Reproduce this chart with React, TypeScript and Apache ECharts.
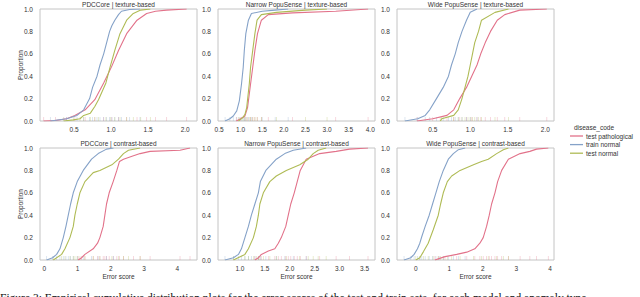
import React, { useEffect, useRef } from "react";
import * as echarts from "echarts";

// ---------- data ----------
const seriesNames = ["test pathological", "train normal", "test normal"];
const seriesColors = ["#e2728a", "#85a2c8", "#afbb55"];

const panelTitles = [
  "PDCCore | texture-based",
  "Narrow PopuSense | texture-based",
  "Wide PopuSense | texture-based",
  "PDCCore | contrast-based",
  "Narrow PopuSense | contrast-based",
  "Wide PopuSense | contrast-based",
];

const yTicks = [0, 0.2, 0.4, 0.6, 0.8, 1.0];

const xTicksP1 = [0.5, 1.0, 1.5, 2.0];
const xTicksP2 = [0.5, 1.0, 1.5, 2.0, 2.5, 3.0, 3.5, 4.0];
const xTicksP3 = [0.5, 1.0, 1.5, 2.0];
const xTicksP4 = [0, 1, 2, 3, 4];
const xTicksP5 = [1.0, 1.5, 2.0, 2.5, 3.0, 3.5];
const xTicksP6 = [0, 1, 2, 3, 4];

// ECDF curves: [error score, proportion]
const p1Path = [[0.09,0],[0.25,0.005],[0.4,0.02],[0.51,0.05],[0.65,0.1],[0.78,0.19],[0.9,0.34],[1.01,0.49],[1.1,0.63],[1.21,0.78],[1.35,0.9],[1.48,0.96],[1.6,0.98],[1.75,0.99],[2.02,1.0]];
const p1Train = [[0.18,0],[0.4,0.02],[0.54,0.05],[0.63,0.1],[0.71,0.2],[0.75,0.3],[0.81,0.4],[0.85,0.5],[0.9,0.6],[0.94,0.7],[0.98,0.8],[1.01,0.85],[1.05,0.9],[1.1,0.95],[1.14,0.98],[1.25,0.995],[1.39,1.0]];
const p1Test = [[0.36,0],[0.49,0.01],[0.58,0.02],[0.63,0.05],[0.72,0.07],[0.78,0.13],[0.83,0.19],[0.93,0.34],[0.99,0.49],[1.05,0.63],[1.12,0.78],[1.21,0.9],[1.3,0.96],[1.4,0.99],[1.53,1.0]];

const p2Path = [[0.9,0],[1.0,0.02],[1.1,0.045],[1.16,0.12],[1.23,0.33],[1.28,0.48],[1.33,0.63],[1.39,0.78],[1.48,0.9],[1.64,0.95],[2.2,0.965],[3.2,0.98],[3.95,1.0]];
const p2Train = [[0.64,0],[0.75,0.02],[0.83,0.045],[0.91,0.09],[0.97,0.18],[1.02,0.33],[1.06,0.48],[1.085,0.63],[1.12,0.78],[1.18,0.9],[1.25,0.96],[1.5,0.98],[1.8,0.99],[2.1,1.0]];
const p2Test = [[0.95,0],[1.05,0.03],[1.1,0.06],[1.14,0.12],[1.2,0.33],[1.23,0.48],[1.28,0.63],[1.33,0.78],[1.38,0.9],[1.48,0.95],[1.83,0.97],[2.5,0.99],[3.0,1.0]];

const p3Path = [[0.29,0],[0.5,0.02],[0.69,0.05],[0.78,0.1],[0.86,0.2],[0.95,0.3],[1.02,0.4],[1.09,0.5],[1.14,0.6],[1.2,0.7],[1.27,0.8],[1.36,0.9],[1.46,0.95],[1.66,0.99],[2.02,1.0]];
const p3Train = [[0.13,0],[0.3,0.02],[0.4,0.05],[0.46,0.1],[0.55,0.2],[0.64,0.3],[0.71,0.4],[0.75,0.5],[0.8,0.6],[0.84,0.7],[0.89,0.8],[0.95,0.9],[1.0,0.97],[1.09,1.0]];
const p3Test = [[0.6,0],[0.62,0.02],[0.78,0.05],[0.84,0.1],[0.89,0.2],[0.93,0.3],[0.97,0.4],[1.0,0.5],[1.03,0.6],[1.06,0.7],[1.11,0.8],[1.15,0.9],[1.33,0.97],[1.51,1.0]];

const p4Path = [[1.02,0],[1.12,0.02],[1.22,0.05],[1.47,0.1],[1.6,0.15],[1.67,0.2],[1.77,0.3],[1.82,0.4],[1.87,0.5],[1.95,0.6],[2.07,0.7],[2.18,0.8],[2.26,0.88],[2.38,0.9],[2.68,0.93],[2.88,0.95],[3.18,0.97],[4.08,0.98],[4.38,1.0]];
const p4Train = [[0.07,0],[0.25,0.02],[0.37,0.05],[0.47,0.1],[0.57,0.2],[0.65,0.3],[0.72,0.4],[0.79,0.5],[0.87,0.6],[0.99,0.7],[1.17,0.8],[1.42,0.9],[1.62,0.95],[1.87,0.99],[2.08,1.0]];
const p4Test = [[0.27,0],[0.52,0.05],[0.62,0.1],[0.77,0.2],[0.87,0.3],[0.92,0.4],[0.99,0.5],[1.07,0.6],[1.22,0.7],[1.47,0.78],[1.67,0.8],[2.03,0.85],[2.23,0.9],[2.38,0.95],[2.53,0.98],[2.88,1.0]];

const p5Path = [[1.3,0],[1.37,0.02],[1.43,0.05],[1.57,0.08],[1.7,0.1],[1.77,0.15],[1.83,0.2],[1.92,0.3],[1.97,0.4],[2.02,0.5],[2.09,0.6],[2.15,0.7],[2.21,0.8],[2.33,0.9],[2.6,0.95],[2.93,0.97],[3.2,0.99],[3.57,1.0]];
const p5Train = [[0.7,0],[0.87,0.02],[0.97,0.05],[1.03,0.1],[1.1,0.2],[1.17,0.3],[1.23,0.4],[1.3,0.5],[1.37,0.6],[1.41,0.7],[1.52,0.8],[1.73,0.9],[1.9,0.95],[2.07,0.98],[2.33,1.0]];
const p5Test = [[0.87,0],[1.1,0.05],[1.17,0.1],[1.27,0.2],[1.33,0.3],[1.37,0.4],[1.4,0.5],[1.47,0.6],[1.6,0.7],[1.73,0.75],[1.93,0.8],[2.2,0.85],[2.37,0.9],[2.47,0.95],[2.57,0.98],[2.73,1.0]];

const p6Path = [[0.57,0],[0.67,0.01],[0.87,0.03],[1.22,0.05],[1.52,0.07],[1.76,0.1],[1.91,0.15],[2.01,0.2],[2.11,0.3],[2.19,0.4],[2.26,0.5],[2.36,0.6],[2.44,0.7],[2.56,0.8],[2.76,0.9],[3.11,0.95],[3.4,0.97],[3.6,0.99],[3.95,1.0]];
const p6Train = [[-0.35,0],[-0.15,0.02],[-0.05,0.05],[0.05,0.1],[0.12,0.15],[0.18,0.21],[0.28,0.3],[0.4,0.4],[0.5,0.5],[0.6,0.6],[0.7,0.7],[0.82,0.8],[0.97,0.9],[1.12,0.95],[1.27,0.985],[1.47,1.0]];
const p6Test = [[0.0,0],[0.12,0.02],[0.23,0.075],[0.37,0.15],[0.52,0.27],[0.67,0.4],[0.74,0.5],[0.82,0.6],[0.94,0.7],[1.07,0.75],[1.32,0.8],[1.72,0.85],[1.96,0.88],[2.16,0.9],[2.41,0.95],[2.61,0.985],[2.76,1.0]];

const captionText =
  "Figure 3: Empirical cumulative distribution plots for the error scores of the test and train sets, for each model and anomaly type.";

// ---------- layout ----------
const FONT = "Liberation Sans, Arial, Helvetica, sans-serif";
const TXT = "#333333";

const panels = [
  { curves: [p1Path, p1Train, p1Test], ticks: xTicksP1, range: [0.04, 2.16], dec: 1 },
  { curves: [p2Path, p2Train, p2Test], ticks: xTicksP2, range: [0.476, 4.11], dec: 1 },
  { curves: [p3Path, p3Train, p3Test], ticks: xTicksP3, range: [0.024, 2.116], dec: 1 },
  { curves: [p4Path, p4Train, p4Test], ticks: xTicksP4, range: [-0.13, 4.59], dec: 0 },
  { curves: [p5Path, p5Train, p5Test], ticks: xTicksP5, range: [0.56, 3.71], dec: 1 },
  { curves: [p6Path, p6Train, p6Test], ticks: xTicksP6, range: [-0.56, 4.12], dec: 0 },
];

const colLeft = [40, 218, 397];
const rowTop = [9, 148];
const W = 157;
const H = 112;

function buildOption() {
  const grid: any[] = [];
  const xAxis: any[] = [];
  const yAxis: any[] = [];
  const series: any[] = [];
  const graphic: any[] = [];

  panels.forEach((p, i) => {
    const col = i % 3;
    const row = Math.floor(i / 3);
    const left = colLeft[col];
    const top = rowTop[row];
    grid.push({
      left,
      top,
      width: W,
      height: H,
      show: true,
      borderColor: "#c4c4c4",
      borderWidth: 1,
      backgroundColor: "transparent",
      containLabel: false,
    });
    xAxis.push({
      type: "value",
      gridIndex: i,
      min: p.range[0],
      max: p.range[1],
      axisLine: { show: false },
      axisTick: { show: false },
      splitLine: { show: false },
      axisLabel: {
        customValues: p.ticks,
        formatter: (v: number) => v.toFixed(p.dec),
        fontSize: 6.5,
        fontFamily: FONT,
        color: TXT,
        margin: 5,
      },
    });
    yAxis.push({
      type: "value",
      gridIndex: i,
      min: 0,
      max: 1,
      axisLine: { show: false },
      axisTick: { show: false },
      splitLine: { show: false },
      axisLabel: {
        customValues: yTicks,
        formatter: (v: number) => v.toFixed(1),
        fontSize: 6.5,
        fontFamily: FONT,
        color: TXT,
        margin: 7,
      },
    });
    // rug marks
    p.curves.forEach((c, k) => {
      series.push({
        type: "scatter",
        name: seriesNames[k],
        xAxisIndex: i,
        yAxisIndex: i,
        data: c.map((d) => [d[0], 0]),
        symbol: "rect",
        symbolSize: [0.8, 4],
        symbolOffset: [0, -2],
        itemStyle: { color: seriesColors[k], opacity: 0.35 },
        silent: true,
        z: 1,
      });
    });
    // ECDF lines
    p.curves.forEach((c, k) => {
      series.push({
        type: "line",
        name: seriesNames[k],
        xAxisIndex: i,
        yAxisIndex: i,
        data: c,
        showSymbol: false,
        symbol: "none",
        lineStyle: { color: seriesColors[k], width: 1.1 },
        itemStyle: { color: seriesColors[k] },
        z: 3 + k,
        clip: true,
      });
    });
    // panel title
    graphic.push({
      type: "text",
      x: left + W / 2,
      y: top - 5,
      style: {
        text: panelTitles[i],
        textAlign: "center",
        textVerticalAlign: "middle",
        fontSize: 6.5,
        fontFamily: FONT,
        fill: TXT,
      },
    });
    if (col === 0) {
      graphic.push({
        type: "text",
        x: 20,
        y: top + H / 2,
        rotation: Math.PI / 2,
        style: {
          text: "Proportion",
          textAlign: "center",
          textVerticalAlign: "middle",
          fontSize: 6.5,
          fontFamily: FONT,
          fill: TXT,
        },
      });
    }
    if (row === 1) {
      graphic.push({
        type: "text",
        x: left + W / 2,
        y: 276,
        style: {
          text: "Error score",
          textAlign: "center",
          textVerticalAlign: "middle",
          fontSize: 6.5,
          fontFamily: FONT,
          fill: TXT,
        },
      });
    }
  });

  // legend
  graphic.push({
    type: "text",
    x: 594,
    y: 127.5,
    style: {
      text: "disease_code",
      textAlign: "center",
      textVerticalAlign: "middle",
      fontSize: 6.5,
      fontFamily: FONT,
      fill: TXT,
    },
  });
  seriesNames.forEach((n, k) => {
    const y = 136 + k * 8.6;
    graphic.push({
      type: "line",
      shape: { x1: 570, y1: y, x2: 583, y2: y },
      style: { stroke: seriesColors[k], lineWidth: 1.3 },
    });
    graphic.push({
      type: "text",
      x: 586,
      y,
      style: {
        text: n,
        textAlign: "left",
        textVerticalAlign: "middle",
        fontSize: 6.5,
        fontFamily: FONT,
        fill: TXT,
      },
    });
  });

  // caption (cut off at the bottom edge)
  graphic.push({
    type: "text",
    x: 0,
    y: 292,
    style: {
      text: captionText,
      textAlign: "left",
      textVerticalAlign: "top",
      fontSize: 11.5,
      fontFamily: "Liberation Serif, Times New Roman, serif",
      fill: "#111111",
    },
  });

  return {
    animation: false,
    backgroundColor: "#ffffff",
    grid,
    xAxis,
    yAxis,
    series,
    graphic,
  };
}

export default function App() {
  const ref = useRef<HTMLDivElement>(null);
  useEffect(() => {
    if (!ref.current) return;
    const chart = echarts.init(ref.current, undefined, { renderer: "svg" });
    chart.setOption(buildOption() as any);
    return () => chart.dispose();
  }, []);
  return (
    <div
      ref={ref}
      style={{ position: "absolute", left: 0, top: 0, width: 640, height: 297 }}
    />
  );
}
